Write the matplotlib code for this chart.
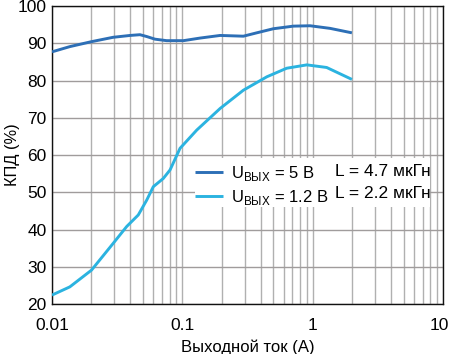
import numpy as np
import matplotlib.pyplot as plt
from matplotlib.patches import Rectangle
from matplotlib.ticker import LogLocator, NullFormatter
from matplotlib.transforms import ScaledTranslation

plt.rcParams.update({
    "font.family": ["Liberation Sans", "DejaVu Sans"],
    "mathtext.fontset": "custom",
    "mathtext.rm": "Liberation Sans",
    "font.size": 12.5,
})

# Data
i_5v = [0.01, 0.0137, 0.0199, 0.0294, 0.0397, 0.0473, 0.0534, 0.0617, 0.0758, 0.102,
        0.137, 0.195, 0.294, 0.372, 0.499, 0.711, 0.955, 1.36, 2.0]
eff_5v = [87.7, 89.1, 90.4, 91.6, 92.1, 92.3, 91.8, 91.1, 90.7, 90.7,
          91.4, 92.1, 91.9, 92.8, 93.9, 94.6, 94.7, 94.0, 92.8]

i_12v = [0.01, 0.0137, 0.0201, 0.0295, 0.0374, 0.0459, 0.0533, 0.0599, 0.0714, 0.0805,
         0.096, 0.129, 0.195, 0.294, 0.445, 0.632, 0.902, 1.28, 2.0]
eff_12v = [22.4, 24.6, 29.1, 36.3, 40.8, 43.9, 47.9, 51.5, 53.7, 56.0,
           61.8, 66.7, 72.5, 77.4, 81.0, 83.3, 84.2, 83.5, 80.3]

labels_u = [r"U$_\mathregular{ВЫХ}$ = 5 В", r"U$_\mathregular{ВЫХ}$ = 1.2 В"]
labels_l = ["L = 4.7 мкГн", "L = 2.2 мкГн"]
colors = ["#2d6fb6", "#2bb3e0"]

fig = plt.figure(figsize=(4.51, 3.54), dpi=100)
ax = fig.add_axes([0.1153, 0.1412, 0.867, 0.8418])

ax.plot(i_5v, eff_5v, color=colors[0], lw=2.1, label=labels_u[0], zorder=3,
        solid_capstyle="butt", solid_joinstyle="round")
ax.plot(i_12v, eff_12v, color=colors[1], lw=2.1, label=labels_u[1], zorder=3,
        solid_capstyle="butt", solid_joinstyle="round")

ax.set_xscale("log")
ax.set_xlim(0.01, 10)
ax.set_ylim(20, 100)
ax.set_xticks([0.01, 0.1, 1, 10])
ax.set_xticklabels(["0.01", "0.1", "1", "10"])
ax.xaxis.set_minor_locator(LogLocator(base=10, subs=np.arange(2, 10)))
ax.xaxis.set_minor_formatter(NullFormatter())
ax.set_yticks(np.arange(20, 101, 10))
ax.tick_params(which="both", length=0)
ax.tick_params(axis="x", pad=10)
ax.tick_params(axis="y", pad=4)

# nudge the last tick label so it stays inside the picture
last = ax.get_xticklabels()[-1]
last.set_transform(last.get_transform() + ScaledTranslation(-2.5 / 72, 0, fig.dpi_scale_trans))

ax.set_axisbelow(True)
ax.grid(True, which="major", axis="y", color="#a09c9c", lw=1.0)
ax.grid(True, which="both", axis="x", color="#b0b0b0", lw=1.0)
for s in ax.spines.values():
    s.set_color("#111111")
    s.set_linewidth(1.0)

ax.set_xlabel("Выходной ток (A)", fontsize=12, labelpad=5)
ax.set_ylabel("КПД (%)", fontsize=11.8)
ax.yaxis.set_label_coords(-0.082, 0.5)

# white box behind legend
ax.add_patch(Rectangle((0.366, 0.326), 0.6, 0.164, transform=ax.transAxes,
                       facecolor="white", edgecolor="none", zorder=1))

ax.legend(loc="upper left", bbox_to_anchor=(0.357, 0.482), frameon=False,
          fontsize=12, handlelength=1.7, handletextpad=0.45, labelspacing=0.33,
          borderpad=0.2, borderaxespad=0)
ax.text(0.724, 0.446, labels_l[0], transform=ax.transAxes, va="center", zorder=5)
ax.text(0.724, 0.372, labels_l[1], transform=ax.transAxes, va="center", zorder=5)

fig.savefig("out.png", dpi=100)
